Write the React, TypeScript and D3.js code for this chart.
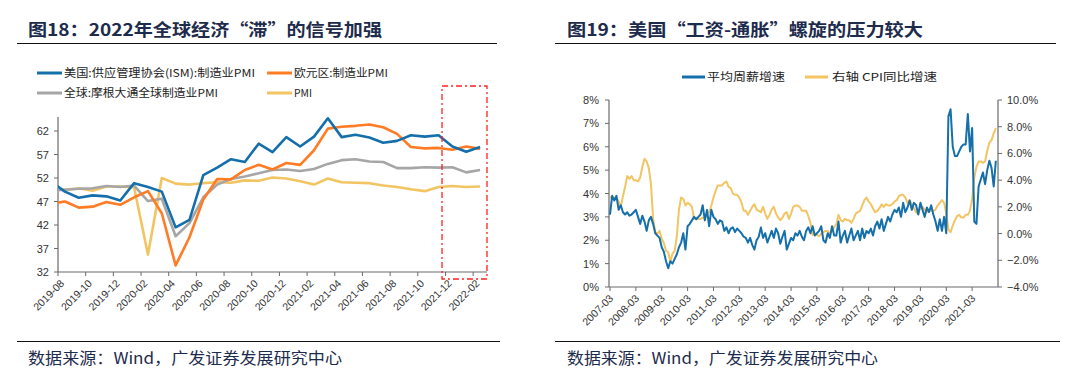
import React from 'react';
import * as d3 from 'd3';

// ---------------- Left chart data (monthly, 2019-07 .. 2022-02) ----------------
const pmiMonths = [
  '2019-07', '2019-08', '2019-09', '2019-10', '2019-11', '2019-12',
  '2020-01', '2020-02', '2020-03', '2020-04', '2020-05', '2020-06',
  '2020-07', '2020-08', '2020-09', '2020-10', '2020-11', '2020-12',
  '2021-01', '2021-02', '2021-03', '2021-04', '2021-05', '2021-06',
  '2021-07', '2021-08', '2021-09', '2021-10', '2021-11', '2021-12',
  '2022-01', '2022-02',
];
const ismPMI = [51.2, 49.1, 47.8, 48.3, 48.1, 47.2, 50.9, 50.1, 49.1, 41.5, 43.1, 52.6, 54.2, 56.0, 55.4, 59.3, 57.5, 60.7, 58.7, 60.8, 64.7, 60.7, 61.2, 60.6, 59.5, 59.9, 61.1, 60.8, 61.1, 58.7, 57.6, 58.6];
const euroPMI = [46.5, 47.0, 45.7, 45.9, 46.9, 46.3, 47.9, 49.2, 44.5, 33.4, 39.4, 47.4, 51.8, 51.7, 53.7, 54.8, 53.8, 55.2, 54.8, 57.9, 62.5, 62.9, 63.1, 63.4, 62.8, 61.4, 58.6, 58.3, 58.4, 58.0, 58.7, 58.2];
const globalPMI = [49.3, 49.5, 49.7, 49.8, 50.3, 50.1, 50.4, 47.1, 47.6, 39.6, 42.4, 47.9, 50.6, 51.8, 52.3, 53.0, 53.7, 53.8, 53.5, 53.9, 55.0, 55.8, 56.0, 55.5, 55.4, 54.1, 54.1, 54.3, 54.2, 54.3, 53.2, 53.7];
const chinaPMI = [49.7, 49.5, 49.8, 49.3, 50.2, 50.2, 50.0, 35.7, 52.0, 50.8, 50.6, 50.9, 51.1, 51.0, 51.5, 51.4, 52.1, 51.9, 51.3, 50.6, 51.9, 51.1, 51.0, 50.9, 50.4, 50.1, 49.6, 49.2, 50.1, 50.3, 50.1, 50.2];
const pmiTickLabels = ['2019-08', '2019-10', '2019-12', '2020-02', '2020-04', '2020-06', '2020-08', '2020-10', '2020-12', '2021-02', '2021-04', '2021-06', '2021-08', '2021-10', '2021-12', '2022-02'];
const pmiYTicks = [32, 37, 42, 47, 52, 57, 62];
const pmiSeriesNames = ['美国:供应管理协会(ISM):制造业PMI', '欧元区:制造业PMI', '全球:摩根大通全球制造业PMI', 'PMI'];

// ---------------- Right chart data (monthly, 2007-03 .. 2022-02) ----------------
const wageGrowth = [
  // 2007 Mar-Dec
  3.1, 3.9, 3.7, 3.9, 3.3, 3.5, 3.2, 3.1, 3.2, 3.05,
  // 2008
  3.1, 3.2, 3.3, 3.0, 2.7, 3.05, 2.8, 2.4, 2.85, 3.0, 2.7, 2.3,
  // 2009
  2.2, 2.1, 1.7, 1.5, 1.1, 0.8, 1.1, 1.0, 1.2, 1.4, 1.7, 1.9,
  // 2010
  2.3, 1.6, 2.6, 2.7, 2.85, 3.0, 2.9, 3.0, 3.1, 3.5, 2.85, 3.3,
  // 2011
  2.6, 3.3, 3.0, 2.9, 2.7, 2.85, 2.8, 2.4, 2.55, 2.3, 2.5, 2.55,
  // 2012
  2.35, 2.5, 2.4, 2.3, 2.15, 2.1, 1.9, 2.1, 1.8, 1.6, 2.0, 2.15,
  // 2013
  2.55, 2.1, 2.3, 1.9, 2.15, 2.4, 2.1, 2.5, 2.3, 1.85, 2.15, 2.4,
  // 2014
  1.6, 1.85, 2.1, 2.0, 2.3, 2.2, 2.4, 2.15, 2.0, 2.4, 2.55, 2.3,
  // 2015
  2.6, 2.2, 2.3, 2.4, 2.6, 2.0, 1.9, 2.3, 2.1, 2.6, 2.2, 2.2,
  // 2016
  2.8, 1.9, 2.2, 2.4, 1.9, 2.2, 2.5, 2.0, 2.2, 2.4, 2.0, 2.5,
  // 2017
  2.1, 2.4, 2.3, 2.5, 2.2, 2.6, 2.8, 2.5, 2.9, 2.4, 2.7, 3.0,
  // 2018
  2.8, 3.1, 3.3, 3.2, 3.4, 3.0, 3.6, 3.2, 3.4, 3.7, 3.3, 3.6,
  // 2019
  3.5, 3.1, 3.6, 3.3, 3.0, 3.4, 3.2, 3.5, 3.1, 2.8, 2.4, 2.9,
  // 2020
  2.4, 3.0, 2.3, 7.3, 7.6, 6.0, 5.6, 5.6, 5.8, 6.0, 6.1, 6.1,
  // 2021
  7.4, 5.8, 6.8, 2.8, 2.7, 4.3, 4.6, 4.9, 4.4, 5.0, 5.4, 5.1,
  // 2022 Jan-Feb
  4.3, 5.4,
];
const cpiYoY = [
  2.8, 2.6, 2.7, 2.7, 2.4, 2.0, 2.8, 3.5, 4.3, 4.1,
  4.3, 4.0, 4.0, 3.9, 4.2, 5.0, 5.6, 5.4, 4.9, 3.7, 1.1, 0.1,
  0.0, 0.2, -0.4, -0.7, -1.3, -1.4, -2.1, -1.5, -1.3, -0.2, 1.8, 2.7,
  2.6, 2.1, 2.3, 2.2, 2.0, 1.1, 1.2, 1.1, 1.1, 1.2, 1.1, 1.5,
  1.6, 2.1, 2.7, 3.2, 3.6, 3.6, 3.6, 3.8, 3.9, 3.5, 3.4, 3.0,
  2.9, 2.9, 2.7, 2.3, 1.7, 1.7, 1.4, 1.7, 2.0, 2.2, 1.8, 1.7,
  1.6, 2.0, 1.5, 1.1, 1.4, 1.8, 2.0, 1.5, 1.2, 1.0, 1.2, 1.5,
  1.6, 1.1, 1.5, 2.0, 2.1, 2.1, 2.0, 1.7, 1.7, 1.7, 1.3, 0.8,
  -0.1, 0.0, -0.1, -0.2, 0.0, 0.1, 0.2, 0.2, 0.0, 0.2, 0.5, 0.7,
  1.4, 1.0, 0.9, 1.1, 1.0, 1.0, 0.8, 1.1, 1.5, 1.6, 1.7, 2.1,
  2.5, 2.7, 2.4, 2.2, 1.9, 1.6, 1.7, 1.9, 2.2, 2.0, 2.2, 2.1,
  2.1, 2.2, 2.4, 2.5, 2.8, 2.9, 2.9, 2.7, 2.3, 2.5, 2.2, 1.9,
  1.6, 1.5, 1.9, 2.0, 1.8, 1.6, 1.8, 1.7, 1.7, 1.8, 2.1, 2.3,
  2.5, 2.3, 1.5, 0.3, 0.1, 0.6, 1.0, 1.3, 1.4, 1.2, 1.2, 1.4,
  1.4, 1.7, 2.6, 4.2, 5.0, 5.4, 5.4, 5.3, 5.4, 6.2, 6.8, 7.0,
  7.5, 7.9,
];
const usStartMonth = '2007-03';
const usTickLabels = ['2007-03', '2008-03', '2009-03', '2010-03', '2011-03', '2012-03', '2013-03', '2014-03', '2015-03', '2016-03', '2017-03', '2018-03', '2019-03', '2020-03', '2021-03'];
const wageTicks = [0, 1, 2, 3, 4, 5, 6, 7, 8];
const cpiTicks = [-4, -2, 0, 2, 4, 6, 8, 10];
const usSeriesNames = ['平均周薪增速', '右轴 CPI同比增速'];

// ---------------- styling ----------------
const BLUE = '#146fab';
const ORANGE = '#ff7b24';
const GRAY = '#a6a6a6';
const YELLOW = '#f2c462';
const NAVY = '#1d2b4c';
const AXIS = '#6b6b6b';
const LABEL = '#333333';
const CJK = '"Noto Sans CJK SC", "Noto Sans", sans-serif';
const LAT = '"Liberation Sans", Arial, sans-serif';

const monthNum = (s: string) => {
  const [y, m] = s.split('-').map(Number);
  return y * 12 + (m - 1);
};

function LeftChart() {
  const x = d3.scaleLinear().domain([monthNum('2019-08'), monthNum('2022-03')]).range([58, 487]);
  const y = d3.scaleLinear().domain([32, 65]).range([272, 116.9]);
  const xs = pmiMonths.map((m) => monthNum(m) + 0.5);
  const line = d3.line<number>().x((_, i) => x(xs[i])).y((d) => y(d));
  const series = [
    { name: pmiSeriesNames[3], values: chinaPMI, color: YELLOW },
    { name: pmiSeriesNames[2], values: globalPMI, color: GRAY },
    { name: pmiSeriesNames[1], values: euroPMI, color: ORANGE },
    { name: pmiSeriesNames[0], values: ismPMI, color: BLUE },
  ];
  const [x0, x1] = x.range();
  const [yb, yt] = y.range();
  const legend = [
    { name: pmiSeriesNames[0], color: BLUE, lx: 37, ly: 73, len: 191 },
    { name: pmiSeriesNames[1], color: ORANGE, lx: 267, ly: 73, len: 94 },
    { name: pmiSeriesNames[2], color: GRAY, lx: 37, ly: 93, len: 154 },
    { name: pmiSeriesNames[3], color: YELLOW, lx: 267, ly: 93, len: 18 },
  ];
  const hlX0 = x(monthNum('2021-11') + 0.75);
  return (
    <g>
      <text x={28} y={36} fontFamily={CJK} fontWeight={700} fontSize={17} fill={NAVY} textLength={354} lengthAdjust="spacingAndGlyphs">图18：2022年全球经济“滞”的信号加强</text>
      <line x1={17} x2={497} y1={43.5} y2={43.5} stroke="#111" strokeWidth={1.2} />
      {legend.map((l) => (
        <g key={l.name}>
          <line x1={l.lx} x2={l.lx + 25} y1={l.ly} y2={l.ly} stroke={l.color} strokeWidth={3} />
          <text x={l.lx + 27} y={l.ly + 4} fontFamily={CJK} fontSize={11} fill="#222" textLength={l.len} lengthAdjust="spacingAndGlyphs">{l.name}</text>
        </g>
      ))}
      <defs>
        <clipPath id="clipL">
          <rect x={x0} y={yt - 5} width={x1 - x0} height={yb - yt + 10} />
        </clipPath>
      </defs>
      {/* axes */}
      <line x1={x0} x2={x0} y1={yt} y2={yb} stroke={AXIS} strokeWidth={1.2} />
      <line x1={x0} x2={x1} y1={yb} y2={yb} stroke={AXIS} strokeWidth={1.2} />
      {pmiYTicks.map((t) => (
        <g key={t}>
          <line x1={x0 - 4} x2={x0} y1={y(t)} y2={y(t)} stroke={AXIS} strokeWidth={1} />
          <text x={x0 - 9} y={y(t) + 4} textAnchor="end" fontFamily={LAT} fontSize={11} fill={LABEL}>{t}</text>
        </g>
      ))}
      {pmiTickLabels.map((t) => {
        const tx = x(monthNum(t));
        return (
          <g key={t}>
            <line x1={tx} x2={tx} y1={yb} y2={yb + 4} stroke={AXIS} strokeWidth={1} />
            <text transform={`translate(${tx + 7},${yb + 12}) rotate(-45)`} textAnchor="end" fontFamily={LAT} fontSize={10.5} fill={LABEL}>{t}</text>
          </g>
        );
      })}
      <g clipPath="url(#clipL)">
        {series.map((s) => (
          <path key={s.name} d={line(s.values) || ''} fill="none" stroke={s.color} strokeWidth={2.6} strokeLinejoin="round" />
        ))}
      </g>
      <rect x={hlX0} y={86} width={x1 - hlX0} height={193} fill="none" stroke="#ff2020" strokeWidth={1.3} strokeDasharray="6,3,2,3" />
      <line x1={17} x2={500} y1={341.5} y2={341.5} stroke="#111" strokeWidth={1.2} />
      <text x={28} y={364} fontFamily={CJK} fontSize={15.5} fill={NAVY} textLength={314} lengthAdjust="spacingAndGlyphs">数据来源：Wind，广发证券发展研究中心</text>
    </g>
  );
}

function RightChart() {
  const start = monthNum(usStartMonth);
  const x = d3.scaleLinear().domain([start, monthNum('2022-03')]).range([610, 998]);
  const yL = d3.scaleLinear().domain([0, 8]).range([287, 100]);
  const yR = d3.scaleLinear().domain([-4, 10]).range([287, 100]);
  const wageLine = d3.line<number>().x((_, i) => x(start + i)).y((d) => yL(d));
  const cpiLine = d3.line<number>().x((_, i) => x(start + i)).y((d) => yR(d));
  const [x0, x1] = x.range();
  const [yb, yt] = yL.range();
  return (
    <g>
      <text x={567} y={36} fontFamily={CJK} fontWeight={700} fontSize={17} fill={NAVY} textLength={356} lengthAdjust="spacingAndGlyphs">图19：美国“工资-通胀”螺旋的压力较大</text>
      <line x1={555} x2={1056} y1={43.5} y2={43.5} stroke="#111" strokeWidth={1.2} />
      <line x1={682} x2={705} y1={77} y2={77} stroke={BLUE} strokeWidth={3} />
      <text x={707} y={81} fontFamily={CJK} fontSize={11} fill="#222" textLength={78} lengthAdjust="spacingAndGlyphs">{usSeriesNames[0]}</text>
      <line x1={805} x2={828} y1={77} y2={77} stroke={YELLOW} strokeWidth={3} />
      <text x={832} y={81} fontFamily={CJK} fontSize={11} fill="#222" textLength={105} lengthAdjust="spacingAndGlyphs">{usSeriesNames[1]}</text>

      <line x1={x0 - 1} x2={x0 - 1} y1={yt} y2={yb} stroke={AXIS} strokeWidth={1.2} />
      <line x1={x1} x2={x1} y1={yt} y2={yb} stroke={AXIS} strokeWidth={1.2} />
      <line x1={x0 - 1} x2={x1} y1={yb} y2={yb} stroke={AXIS} strokeWidth={1.2} />
      {wageTicks.map((t) => (
        <g key={'l' + t}>
          <line x1={x0 - 5} x2={x0 - 1} y1={yL(t)} y2={yL(t)} stroke={AXIS} strokeWidth={1} />
          <text x={599} y={yL(t) + 4} textAnchor="end" fontFamily={LAT} fontSize={11} fill={LABEL}>{t}%</text>
        </g>
      ))}
      {cpiTicks.map((t) => (
        <g key={'r' + t}>
          <line x1={x1} x2={x1 + 4} y1={yR(t)} y2={yR(t)} stroke={AXIS} strokeWidth={1} />
          <text x={1007} y={yR(t) + 4} textAnchor="start" fontFamily={LAT} fontSize={11} fill={LABEL}>{d3.format('.1f')(t)}%</text>
        </g>
      ))}
      {usTickLabels.map((t) => {
        const tx = x(monthNum(t));
        return (
          <g key={t}>
            <line x1={tx} x2={tx} y1={yb} y2={yb + 4} stroke={AXIS} strokeWidth={1} />
            <text transform={`translate(${tx + 4},${yb + 12}) rotate(-45)`} textAnchor="end" fontFamily={LAT} fontSize={10.5} fill={LABEL}>{t}</text>
          </g>
        );
      })}
      <path d={cpiLine(cpiYoY) || ''} fill="none" stroke={YELLOW} strokeWidth={2} strokeLinejoin="round" />
      <path d={wageLine(wageGrowth) || ''} fill="none" stroke={BLUE} strokeWidth={2} strokeLinejoin="round" />
      <line x1={555} x2={1060} y1={341.5} y2={341.5} stroke="#111" strokeWidth={1.2} />
      <text x={567} y={364} fontFamily={CJK} fontSize={15.5} fill={NAVY} textLength={311} lengthAdjust="spacingAndGlyphs">数据来源：Wind，广发证券发展研究中心</text>
    </g>
  );
}

export default function App() {
  return (
    <svg width={1080} height={375} viewBox="0 0 1080 375" style={{ position: 'absolute', left: 0, top: 0, background: '#fff', display: 'block' }}>
      <rect x={0} y={0} width={1080} height={375} fill="#fff" />
      <LeftChart />
      <RightChart />
    </svg>
  );
}
